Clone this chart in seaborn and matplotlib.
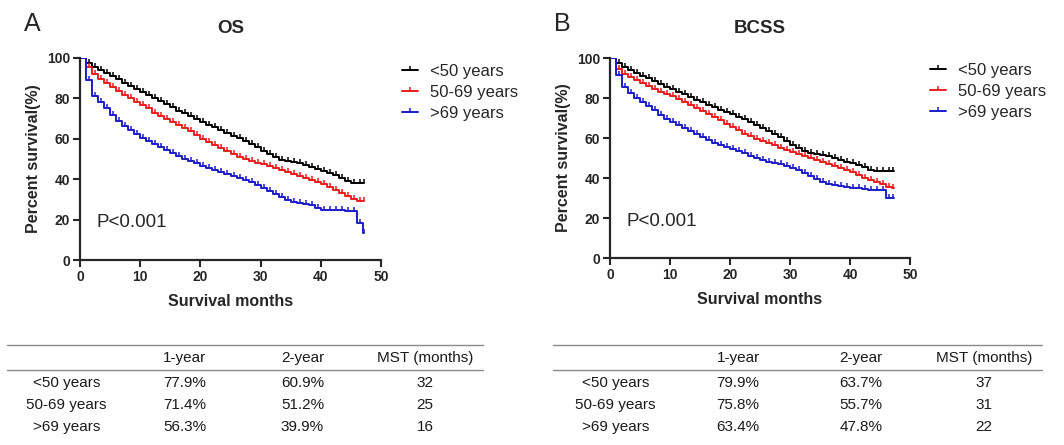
import numpy as np
import pandas as pd
import matplotlib
matplotlib.use("Agg")
import matplotlib.pyplot as plt
import seaborn as sns
from matplotlib.path import Path
from matplotlib.lines import Line2D

# ---------------- data ----------------
groups = ["<50 years", "50-69 years", ">69 years"]
months = list(range(48))

os_lt50 = [100, 97.5, 95.5, 94, 92.5, 91, 89.5, 87.5, 86, 84.5, 83, 81.5, 80, 78.5, 77, 75.5,
           74, 73, 71.5, 70, 68.5, 67, 66, 64.5, 63, 61.5, 60.5, 59, 57.5, 56, 54, 52.5,
           51, 49.5, 49, 48.5, 48, 47, 46, 45, 44, 43, 42, 40.5, 39, 38, 38, 38]
os_50_69 = [100, 95.5, 92, 89.5, 87.5, 85.5, 83.5, 81.5, 80, 78, 76.5, 75, 73, 71.5, 70, 68.5,
            67, 65.5, 64, 62, 60, 58.5, 57, 55.5, 54, 52.5, 51, 50, 49, 48, 47.5, 46.5,
            45.5, 44.5, 43.5, 42.5, 41.5, 40.5, 39.5, 38.5, 37.5, 36, 34.5, 33, 31.5, 30, 29, 29]
os_gt69 = [100, 89, 81, 78, 75, 72, 69, 66.5, 64.5, 62.5, 60.5, 59, 57.5, 56, 54.5, 53,
           51.5, 50, 49, 48, 46.5, 45.5, 44.5, 43.5, 42.5, 41.5, 40.5, 39.5, 38.5, 37, 35.5, 34,
           32.5, 31, 29.5, 28.5, 28, 27.5, 27, 25.5, 25, 25, 25, 24.8, 24.5, 24.5, 18.3, 13.5]

bcss_lt50 = [100, 97.5, 95.5, 94, 92.5, 91, 90, 88.5, 87, 85.5, 84.5, 83, 82, 80.5, 79, 78,
             76.5, 75.5, 74, 73, 72, 70.5, 69.5, 68, 66.5, 65, 63.5, 62, 60.5, 58.5, 56.5, 55,
             53.5, 52.5, 52, 51.5, 51, 50, 49, 48, 47.5, 46.5, 45.5, 44, 43.5, 43.5, 43.5, 43.5]
bcss_50_69 = [100, 94.5, 92, 90.5, 89, 87.5, 86, 84.5, 83, 82, 81, 79.5, 78, 76.5, 75, 73.5,
              72, 70.5, 69, 67, 65.5, 64, 62, 61, 59.5, 58.5, 57.5, 56.5, 55, 54, 53, 52,
              51, 50, 49, 48, 47, 46, 45, 44, 43, 41.5, 40, 39, 38, 37, 35.5, 35]
bcss_gt69 = [100, 91.5, 85.5, 82.5, 80, 78, 76, 74, 71.5, 69.5, 68, 66.5, 65, 63.5, 62, 60.5,
             59, 57.5, 56.5, 55.5, 54.5, 53.5, 52.5, 51, 50, 49, 48, 47.5, 47, 46, 45, 44,
             42.5, 41, 39.5, 38, 37, 36.5, 36, 35.5, 35, 35, 34.5, 34, 34, 34, 30, 30]

table_cols = ["1-year", "2-year", "MST (months)"]
os_1yr = ["77.9%", "71.4%", "56.3%"]
os_2yr = ["60.9%", "51.2%", "39.9%"]
os_mst = ["32", "25", "16"]
bcss_1yr = ["79.9%", "75.8%", "63.4%"]
bcss_2yr = ["63.7%", "55.7%", "47.8%"]
bcss_mst = ["37", "31", "22"]

colors = ["#000000", "#ee1c1c", "#1c1ccc"]
END = 47.25

# ---------------- style ----------------
sns.set_style("ticks")
plt.rcParams["font.family"] = ["Liberation Sans", "DejaVu Sans"]

W, H = 1064, 445
fig = plt.figure(figsize=(W / 100, H / 100), dpi=100)

def fx(x):
    return x / W

def fy(y):
    return 1 - y / H

tick_path = Path([(0, 0), (0, 1)], [Path.MOVETO, Path.LINETO])


def make_df(series):
    rows = []
    for g, vals in zip(groups, series):
        for m, v in zip(months, vals):
            rows.append((g, m, v))
        rows.append((g, END, vals[-1]))
    return pd.DataFrame(rows, columns=["group", "month", "surv"])


def draw_panel(ax, series, title, letter, letter_x):
    df = make_df(series)
    sns.lineplot(data=df, x="month", y="surv", hue="group", hue_order=groups,
                 palette=colors, estimator=None, drawstyle="steps-post",
                 linewidth=1.4, legend=False, ax=ax)
    for vals, c in zip(series, colors):
        cx = [m + 0.5 for m in months[1:-1]] + [END - 0.05]
        cy = list(vals[1:-1]) + [vals[-1]]
        ax.plot(cx, cy, ls="none", marker=tick_path, markersize=6,
                markeredgewidth=1.1, color=c)
    ax.set_xlim(0, 50)
    ax.set_ylim(0, 100)
    ax.set_xticks([0, 10, 20, 30, 40, 50])
    ax.set_yticks([0, 20, 40, 60, 80, 100])
    for lbl in ax.get_xticklabels() + ax.get_yticklabels():
        lbl.set_fontweight("bold")
    ax.tick_params(axis="both", labelsize=10, width=1.5, length=5, direction="out", pad=2)
    for s in ["left", "bottom"]:
        ax.spines[s].set_linewidth(1.6)
    sns.despine(ax=ax)
    ax.set_xlabel("Survival months", fontsize=11.5, fontweight="bold", labelpad=7.5)
    ax.set_ylabel("Percent survival(%)", fontsize=11.5, fontweight="bold", labelpad=4)
    ax.set_title(title, fontsize=13.5, fontweight="bold", pad=18)
    ax.text(2.7, 18.5, "P<0.001", fontsize=13.5, va="center", ha="left")
    fig.text(fx(letter_x), fy(24), letter, fontsize=18, va="center", ha="left")


def draw_legend(ax, x0, y0):
    handles = [Line2D([0], [0], color=c, lw=1.4, marker=tick_path, markersize=6,
                      markeredgewidth=1.1) for c in colors]
    ax.legend(handles, groups, loc="upper left", bbox_to_anchor=(fx(x0), fy(y0)),
              bbox_transform=fig.transFigure, frameon=False, fontsize=12,
              handlelength=0.95, handletextpad=0.75, labelspacing=0.36,
              borderpad=0, borderaxespad=0)


def draw_table(left, right, cx, v1, v2, v3):
    for yy in [345, 370]:
        fig.add_artist(Line2D([fx(left), fx(right)], [fy(yy), fy(yy)],
                              color="#8a8a8a", lw=1.0, transform=fig.transFigure))
    for c, t in zip(cx[1:], table_cols):
        fig.text(fx(c), fy(358), t, fontsize=11, ha="center", va="center", color="#1a1a1a")
    rows_y = [383, 405, 427]
    for i, yy in enumerate(rows_y):
        vals = [groups[i], v1[i], v2[i], v3[i]]
        for c, t in zip(cx, vals):
            fig.text(fx(c), fy(yy), t, fontsize=11, ha="center", va="center", color="#1a1a1a")


axA = fig.add_axes([fx(80), fy(260), fx(381 - 80), (260 - 58) / H])
axB = fig.add_axes([fx(610), fy(258), fx(910 - 610), (258 - 58) / H])

draw_panel(axA, [os_lt50, os_50_69, os_gt69], "OS", "A", 24)
draw_panel(axB, [bcss_lt50, bcss_50_69, bcss_gt69], "BCSS", "B", 554)
draw_legend(axA, 402, 64)
draw_legend(axB, 930, 63)

draw_table(7, 483, [66.5, 185, 302.5, 425], os_1yr, os_2yr, os_mst)
draw_table(553, 1042, [615.5, 738, 861, 984], bcss_1yr, bcss_2yr, bcss_mst)

fig.savefig("out.png", dpi=100)
